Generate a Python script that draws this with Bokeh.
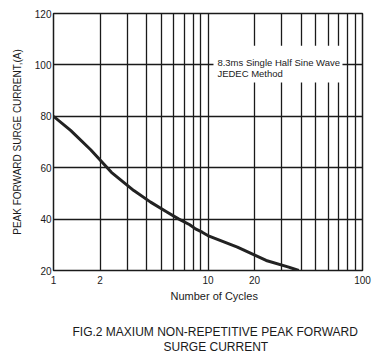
from bokeh.plotting import figure
from bokeh.models import FixedTicker, NumeralTickFormatter, Label, BoxAnnotation, Title, Range1d
from bokeh.embed import file_html
from bokeh.resources import INLINE

# data (curve traced along its drawn shape)
cycles = [1, 1.29, 1.74, 2.37, 3.31, 4.25, 5.45, 6.44, 7.62, 8.3, 9.17, 9.97, 15.5, 23.8, 33.3, 38.7]
current = [80, 74.5, 67.0, 58.2, 51.1, 46.6, 42.7, 40.1, 37.8, 36.2, 34.9, 33.6, 29.1, 23.9, 21.3, 20]
x_major = [1, 2, 10, 20, 100]
x_minor = [3, 4, 5, 6, 7, 8, 9, 30, 40, 50, 60, 70, 80, 90]
y_ticks = [20, 40, 60, 80, 100, 120]

FONT = "Liberation Sans"
INK = "#1a1a1a"

p = figure(width=383, height=354, x_axis_type="log", output_backend="svg",
           toolbar_location=None, x_range=Range1d(1, 100), y_range=Range1d(20, 120),
           min_border_left=53, min_border_right=21, min_border_top=13, min_border_bottom=84)
p.outline_line_color = INK
p.outline_line_width = 1.5
p.background_fill_color = "white"
p.border_fill_color = "white"

p.xaxis.ticker = FixedTicker(ticks=x_major, minor_ticks=x_minor)
p.xaxis.formatter = NumeralTickFormatter(format="0")
p.yaxis.ticker = FixedTicker(ticks=y_ticks)

for ax in (p.xaxis, p.yaxis):
    ax.axis_line_color = None
    ax.major_tick_line_color = None
    ax.minor_tick_line_color = None
    ax.major_tick_out = 0
    ax.major_tick_in = 0
    ax.minor_tick_out = 0
    ax.minor_tick_in = 0
    ax.major_label_text_font = FONT
    ax.major_label_text_font_size = "10px"
    ax.major_label_text_color = INK
    ax.axis_label_text_font = FONT
    ax.axis_label_text_font_style = "normal"
    ax.axis_label_text_font_size = "10px"
    ax.axis_label_text_color = INK

p.xaxis.major_label_standoff = 5
p.yaxis.major_label_standoff = 2
p.yaxis.axis_label = "PEAK FORWARD SURGE CURRENT,(A)"
p.yaxis.axis_label_standoff = 9

p.xgrid.grid_line_color = INK
p.xgrid.grid_line_width = 1.3
p.xgrid.minor_grid_line_color = INK
p.xgrid.minor_grid_line_width = 1.3
p.ygrid.grid_line_color = INK
p.ygrid.grid_line_width = 1.3

p.line(cycles, current, line_width=3, line_color="#222222", line_join="round")

p.add_layout(BoxAnnotation(left=10.85, right=74.2, bottom=93.2, top=107.5,
                           fill_color="white", fill_alpha=1, line_color=None))
p.add_layout(Label(x=11.5, y=101.05, text="8.3ms Single Half Sine Wave", text_baseline="middle",
                   text_font=FONT, text_font_size="9.5px", text_color=INK))
p.add_layout(Label(x=11.5, y=96.5, text="JEDEC Method", text_baseline="middle",
                   text_font=FONT, text_font_size="9.5px", text_color=INK))

tx = Title(text="Number of Cycles", align="left", offset=117, text_font=FONT, text_font_size="11px",
           text_font_style="normal", text_color=INK, standoff=2)
spacer = Title(text=" ", align="left", text_font=FONT, text_font_size="12px",
               text_font_style="normal", text_color="white", standoff=3.5)
t1 = Title(text="FIG.2 MAXIUM NON-REPETITIVE PEAK FORWARD", align="left", offset=19, text_font=FONT,
           text_font_size="12px", text_font_style="normal", text_color=INK, standoff=0)
t2 = Title(text="SURGE CURRENT", align="left", offset=110, text_font=FONT, text_font_size="12px",
           text_font_style="normal", text_color=INK, standoff=-1)
p.add_layout(tx, "below")
p.add_layout(spacer, "below")
p.add_layout(t1, "below")
p.add_layout(t2, "below")

open("out.html", "w").write(file_html(p, INLINE))
